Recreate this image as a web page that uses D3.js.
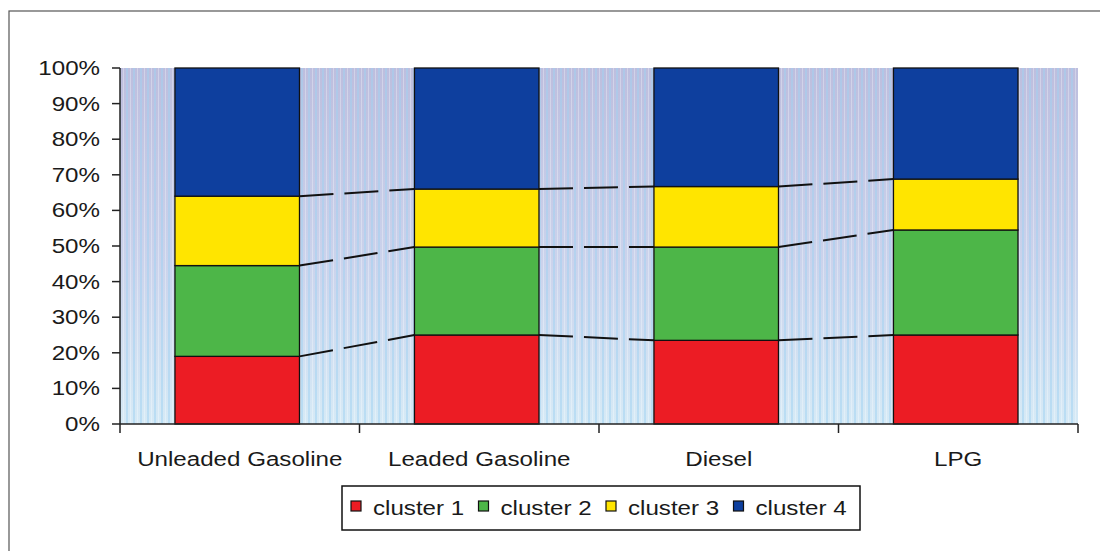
<!DOCTYPE html>
<html>
<head>
<meta charset="utf-8">
<script src="https://cdn.jsdelivr.net/npm/d3@7"></script>
<style>
  html, body { margin: 0; padding: 0; background: #ffffff; }
  svg { display: block; }
  text { font-family: "Liberation Sans", Arial, sans-serif; fill: #1a1a1a; }
</style>
</head>
<body>
<svg id="chart" width="1100" height="551"></svg>
<script>
// ---- data ----
const categories = ["Unleaded Gasoline", "Leaded Gasoline", "Diesel", "LPG"];
const seriesNames = ["cluster 1", "cluster 2", "cluster 3", "cluster 4"];
const cluster1 = [19, 25, 23.5, 25];
const cluster2 = [25.5, 24.7, 26.2, 29.5];
const cluster3 = [19.5, 16.3, 17, 14.3];
const cluster4 = [36, 34, 33.3, 31.2];
const yTickLabels = ["0%", "10%", "20%", "30%", "40%", "50%", "60%", "70%", "80%", "90%", "100%"];
const colors = ["#ec1c24", "#4db648", "#ffe500", "#0e3f9e"];

// ---- build table ----
const seriesValues = [cluster1, cluster2, cluster3, cluster4];
const table = categories.map((c, i) => {
  const row = { cat: c };
  seriesNames.forEach((s, j) => row[s] = seriesValues[j][i]);
  return row;
});
const stackGen = d3.stack().keys(seriesNames).offset(d3.stackOffsetExpand);
const stacked = stackGen(table);

const svg = d3.select("#chart");
const FS = 21, SX = 1.15;

// outer frame
svg.append("rect").attr("x", 9).attr("y", 11).attr("width", 1100).attr("height", 560)
  .attr("fill", "none").attr("stroke", "#555").attr("stroke-width", 1.2);

const x0 = 120, x1 = 1078, yTop = 68, yBot = 424;
const y = d3.scaleLinear().domain([0, 1]).range([yBot, yTop]);
const xAxisBand = d3.scaleBand().domain(categories).range([x0, x1]).padding(0);
const x = d3.scaleBand().domain(categories).range([x0, x1])
  .paddingInner(0.48).paddingOuter(0.24).align(0.478);

// background gradient
const defs = svg.append("defs");
const grad = defs.append("linearGradient").attr("id", "bg").attr("x1", 0).attr("y1", 0).attr("x2", 0).attr("y2", 1);
grad.append("stop").attr("offset", "0%").attr("stop-color", "#bdbede");
grad.append("stop").attr("offset", "55%").attr("stop-color", "#cbd3ec");
grad.append("stop").attr("offset", "100%").attr("stop-color", "#d6eaf6");
const pat = defs.append("pattern").attr("id", "stripes").attr("patternUnits", "userSpaceOnUse")
  .attr("width", 7).attr("height", 8);
pat.append("rect").attr("x", 0).attr("y", 0).attr("width", 2).attr("height", 8).attr("fill", "#9fd2f2").attr("opacity", 0.5);
pat.append("rect").attr("x", 4).attr("y", 0).attr("width", 1).attr("height", 8).attr("fill", "#ffffff").attr("opacity", 0.3);

svg.append("rect").attr("x", x0).attr("y", yTop).attr("width", x1 - x0).attr("height", yBot - yTop)
  .attr("fill", "url(#bg)");
svg.append("rect").attr("x", x0).attr("y", yTop).attr("width", x1 - x0).attr("height", yBot - yTop)
  .attr("fill", "url(#stripes)");

// bars
const layers = svg.append("g").selectAll("g").data(stacked).join("g")
  .attr("fill", (d, i) => colors[i]);
layers.selectAll("rect").data(d => d).join("rect")
  .attr("x", d => x(d.data.cat))
  .attr("y", d => y(d[1]))
  .attr("width", x.bandwidth())
  .attr("height", d => y(d[0]) - y(d[1]))
  .attr("stroke", "#111").attr("stroke-width", 1.3);

// series lines (dashed) connecting segment tops between bars
const lineG = svg.append("g");
stacked.slice(0, 3).forEach(layer => {
  for (let i = 0; i < categories.length - 1; i++) {
    const a = layer[i], b = layer[i + 1];
    lineG.append("line")
      .attr("x1", x(a.data.cat) + x.bandwidth())
      .attr("y1", y(a[1]))
      .attr("x2", x(b.data.cat))
      .attr("y2", y(b[1]))
      .attr("stroke", "#111").attr("stroke-width", 2)
      .attr("stroke-dasharray", "34,11");
  }
});

// y axis
const yAxisG = svg.append("g");
yAxisG.append("line").attr("x1", x0).attr("x2", x0).attr("y1", yTop).attr("y2", yBot)
  .attr("stroke", "#222").attr("stroke-width", 1.5);
yTickLabels.forEach((lab, i) => {
  const v = i / 10;
  yAxisG.append("line").attr("x1", x0 - 8).attr("x2", x0).attr("y1", y(v)).attr("y2", y(v))
    .attr("stroke", "#222").attr("stroke-width", 1.5);
  yAxisG.append("text")
    .attr("transform", `translate(100,${y(v) + 7}) scale(${SX},1)`)
    .attr("text-anchor", "end").attr("font-size", FS).text(lab);
});

// x axis
const xAxisG = svg.append("g");
xAxisG.append("line").attr("x1", x0).attr("x2", x1).attr("y1", yBot).attr("y2", yBot)
  .attr("stroke", "#222").attr("stroke-width", 1.5);
const tickXs = categories.map(c => xAxisBand(c)).concat([x1]);
tickXs.forEach(tx => {
  xAxisG.append("line").attr("x1", tx).attr("x2", tx).attr("y1", yBot).attr("y2", yBot + 9)
    .attr("stroke", "#222").attr("stroke-width", 1.5);
});
categories.forEach(c => {
  xAxisG.append("text")
    .attr("transform", `translate(${xAxisBand(c) + xAxisBand.bandwidth() / 2},466) scale(${SX},1)`)
    .attr("text-anchor", "middle").attr("font-size", FS).text(c);
});

// legend
const lg = svg.append("g");
lg.append("rect").attr("x", 342).attr("y", 486).attr("width", 518).attr("height", 44)
  .attr("fill", "#fff").attr("stroke", "#111").attr("stroke-width", 1.5);
seriesNames.forEach((s, i) => {
  const lx = 351 + i * 127.5;
  lg.append("rect").attr("x", lx).attr("y", 501).attr("width", 10).attr("height", 10)
    .attr("fill", colors[i]).attr("stroke", "#111").attr("stroke-width", 1.2);
  lg.append("text")
    .attr("transform", `translate(${lx + 22},515) scale(${SX},1)`)
    .attr("font-size", FS).text(s);
});
</script>
</body>
</html>
